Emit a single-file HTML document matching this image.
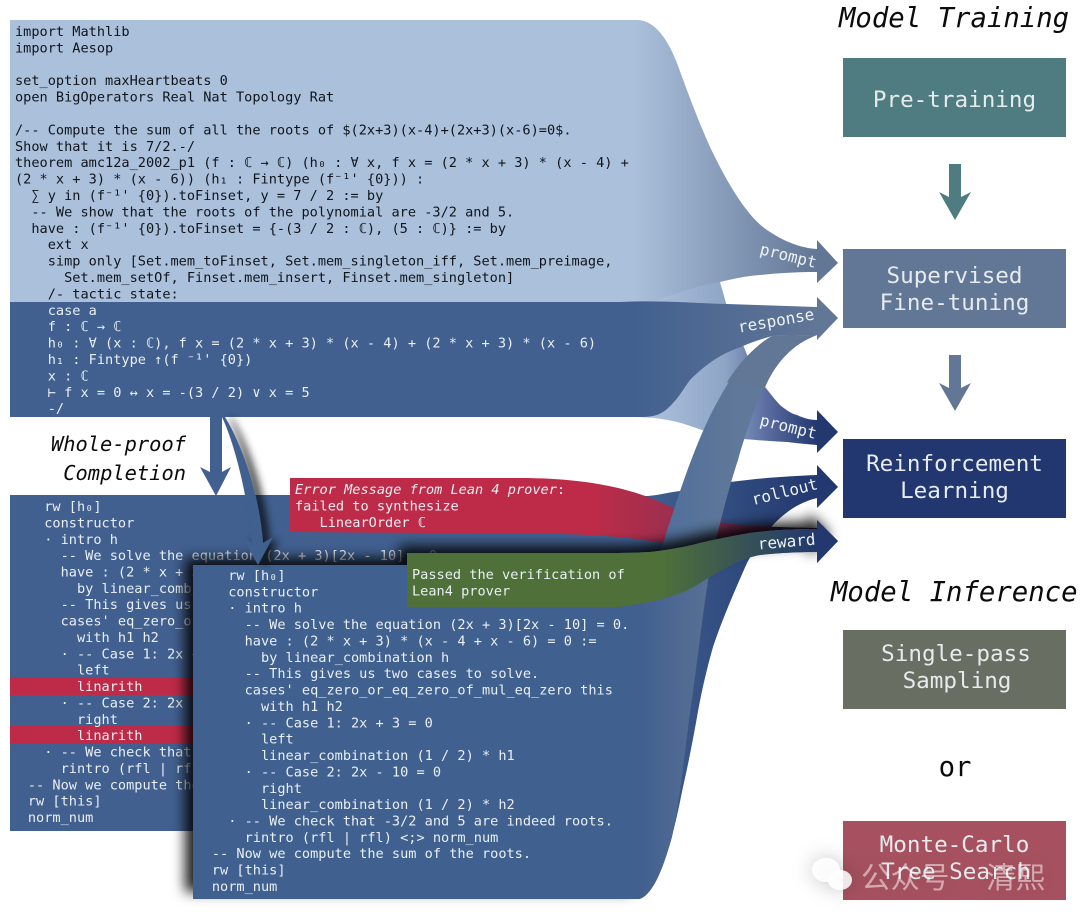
<!DOCTYPE html>
<html><head><meta charset="utf-8"><style>
html,body{margin:0;padding:0;background:#fff;width:1080px;height:919px;overflow:hidden}
svg{display:block;filter:blur(.35px)}
text{font-family:"DejaVu Sans Mono","Liberation Mono","Noto Sans CJK SC",monospace;white-space:pre}
.c{font-size:13.6px}
.d{fill:#10151c}.l{fill:#e9eff4}
.b{font-size:22.6px;fill:#e6ebee;text-anchor:middle}
.t{font-size:27.3px;font-style:italic;fill:#0b0b0b}
.w{font-size:20.4px;font-style:italic;fill:#0b0b0b;text-anchor:end}
.a{font-size:16px;fill:#eef2f6;text-anchor:middle}
</style></head><body>
<svg width="1080" height="919" viewBox="0 0 1080 919" xmlns="http://www.w3.org/2000/svg">
<defs>
<linearGradient id="gP1" gradientUnits="userSpaceOnUse" x1="635" y1="0" x2="817" y2="0"><stop offset="0" stop-color="#abc0db"/><stop offset="1" stop-color="#627696"/></linearGradient>
<linearGradient id="gR" gradientUnits="userSpaceOnUse" x1="630" y1="0" x2="817" y2="0"><stop offset="0" stop-color="#41608f"/><stop offset="1" stop-color="#627696"/></linearGradient>
<linearGradient id="gP2" gradientUnits="userSpaceOnUse" x1="650" y1="0" x2="817" y2="0"><stop offset="0" stop-color="#abc0db"/><stop offset=".45" stop-color="#8ea5c6"/><stop offset=".7" stop-color="#5a6ca0"/><stop offset="1" stop-color="#22386f"/></linearGradient>
<linearGradient id="gRo" gradientUnits="userSpaceOnUse" x1="640" y1="0" x2="817" y2="0"><stop offset="0" stop-color="#41608f"/><stop offset="1" stop-color="#22386f"/></linearGradient>
<linearGradient id="gRed" gradientUnits="userSpaceOnUse" x1="590" y1="0" x2="790" y2="0"><stop offset="0" stop-color="#be2b48"/><stop offset=".45" stop-color="#98304f"/><stop offset="1" stop-color="#45244a"/></linearGradient>
<linearGradient id="gG" gradientUnits="userSpaceOnUse" x1="660" y1="0" x2="817" y2="0"><stop offset="0" stop-color="#4f7139"/><stop offset="1" stop-color="#22386f"/></linearGradient>
<linearGradient id="gV" gradientUnits="userSpaceOnUse" x1="640" y1="0" x2="735" y2="0"><stop offset="0" stop-color="#41608f"/><stop offset="1" stop-color="#627696"/></linearGradient>
<linearGradient id="gU" gradientUnits="userSpaceOnUse" x1="665" y1="0" x2="735" y2="0"><stop offset="0" stop-color="#4f6f9b"/><stop offset="1" stop-color="#607899"/></linearGradient>
<clipPath id="cU"><rect x="600" y="300" width="300" height="300"/></clipPath>
<clipPath id="cL"><rect x="600" y="560" width="300" height="350"/></clipPath>
<filter id="sh" x="-10%" y="-10%" width="120%" height="120%"><feDropShadow dx="-8" dy="-7" stdDeviation="6.500" flood-color="#000" flood-opacity=".88"/></filter>
<filter id="sh2" x="-80%" y="-20%" width="260%" height="140%"><feDropShadow dx="7" dy="1" stdDeviation="4" flood-color="#000" flood-opacity=".7"/></filter>
<filter id="wm" x="-20%" y="-60%" width="140%" height="220%"><feDropShadow dx="0" dy="0" stdDeviation="10" flood-color="#000" flood-opacity=".28"/></filter>
</defs>

<!-- right column -->
<text class="t" x="839" y="27">Model Training</text>
<rect x="843" y="58" width="223" height="79" fill="#4f7c80"/>
<text class="b" x="954.500" y="107">Pre-training</text>
<path d="M949 164H961V197L971 192L955 220L939 192L949 197Z" fill="#4f7c80"/>
<rect x="843" y="249" width="223" height="79" fill="#627696"/>
<text class="b" x="954.500" y="283">Supervised</text>
<text class="b" x="954.500" y="310">Fine-tuning</text>
<path d="M949 355H961V388L971 383L955 411L939 383L949 388Z" fill="#627696"/>
<rect x="843" y="439" width="223" height="79" fill="#22376f"/>
<text class="b" x="954.500" y="471">Reinforcement</text>
<text class="b" x="954.500" y="498">Learning</text>
<text class="t" x="831" y="601">Model Inference</text>
<rect x="843" y="630" width="223" height="79" fill="#696e62"/>
<text class="b" x="956" y="661">Single-pass</text>
<text class="b" x="957" y="688">Sampling</text>
<text class="t" x="955" y="776" text-anchor="middle" style="font-style:normal">or</text>
<rect x="843" y="821" width="223" height="79" fill="#a75160"/>
<text class="b" x="954.500" y="852">Monte-Carlo</text>
<text class="b" x="956" y="879">Tree Search</text>

<!-- rollout band -->
<path d="M630 496H648C660 495 670 492 680 491C700 487 720 484 730 482C760 478 790 476 817 475V465L838 487L817 508V498C800 502 785 512 773 525C762 537 755 548 747 563C735 590 722 620 713 647C705 675 700 700 697 717C692 745 688 765 683 787C678 812 673 835 667 853C662 870 655 885 650 890C645 896 642 899 637 899H620V496Z" fill="url(#gRo)"/>

<!-- box 1 -->
<rect x="10" y="495" width="630" height="336" fill="#41608f"/>
<rect x="10" y="677" width="630" height="18" fill="#be2b48"/>
<rect x="10" y="726" width="630" height="18" fill="#be2b48"/>
<g class="c l">
<text x="11.500" y="511">    rw [h₀]</text>
<text x="11.500" y="527.400">    constructor</text>
<text x="11.500" y="543.800">    · intro h</text>
<text x="11.500" y="560.100">      -- We solve the equation (2x + 3)[2x - 10] = 0.</text>
<text x="11.500" y="576.500">      have : (2 * x + 3) * (x - 4 + x - 6) = 0 :=</text>
<text x="11.500" y="592.900">        by linear_combination h</text>
<text x="11.500" y="609.200">      -- This gives us two cases to solve.</text>
<text x="11.500" y="625.600">      cases' eq_zero_or_eq_zero_of_mul_eq_zero this</text>
<text x="11.500" y="642">        with h1 h2</text>
<text x="11.500" y="658.300">      · -- Case 1: 2x + 3 = 0</text>
<text x="11.500" y="674.700">        left</text>
<text x="11.500" y="691.100">        linarith</text>
<text x="11.500" y="707.400">      · -- Case 2: 2x - 10 = 0</text>
<text x="11.500" y="723.800">        right</text>
<text x="11.500" y="740.200">        linarith</text>
<text x="11.500" y="756.500">    · -- We check that -3/2 and 5 are indeed roots.</text>
<text x="11.500" y="772.900">      rintro (rfl | rfl) &lt;;&gt; norm_num</text>
<text x="11.500" y="789.300">  -- Now we compute the sum of the roots.</text>
<text x="11.500" y="805.600">  rw [this]</text>
<text x="11.500" y="822">  norm_num</text>
</g>

<!-- red band -->
<path d="M290 478H520C560 478 600 482 633 492C650 497 665 504 677 510L720 522C740 526 770 527 817 528V546H720L662 543C630 537 600 535 560 534L290 532Z" fill="url(#gRed)"/>
<g class="c l">
<text x="295" y="494" font-style="italic">Error Message from Lean 4 prover<tspan font-style="normal">:</tspan></text>
<text x="295" y="510.400">failed to synthesize</text>
<text x="295" y="526.800">   LinearOrder ℂ</text>
</g>

<!-- second prompt band -->
<path d="M640 250L720 282L726 303L748 357L765 387C770 393 775 400 780 405C786 410 792 414 797 415C803 418 810 420 817 420V410L838 432L817 453V445C805 444 795 443 787 442C770 441 755 440 743 439C728 437 715 434 702 430C693 427 685 424 677 422C665 419 650 417 630 417Z" fill="url(#gP2)"/>

<!-- top box + prompt + response -->
<path d="M10 20H637C655 20 668 40 677 63C685 85 697 118 710 147C725 178 745 215 767 230C783 241 800 248 817 249V240L838 263L817 283V272C798 272 780 273 760 275C745 276 733 279 720 282C708 284 697 287 687 290C675 294 665 297 653 302H10Z" fill="url(#gP1)"/>
<path d="M10 302H620C660 300 690 303 727 304L817 307V297L838 318L817 340V335L772 336C762 339 752 342 743 346C733 350 725 353 717 358C706 365 698 372 690 380C684 388 679 397 673 403C667 410 662 413 657 415C650 417 645 417 640 417H10Z" fill="url(#gR)"/>

<!-- slate ribbon from box 2 to response: upper part -->
<path clip-path="url(#cU)" d="M772 336C747 350 730 378 713 410C695 445 680 490 663 543L640 600V899C650 895 660 880 672 837C680 800 685 750 690 713C695 680 702 620 708 580C715 540 728 490 738 460C745 435 755 405 765 387C775 365 790 345 817 335Z" fill="url(#gU)"/>
<path d="M772 336C755 346 740 362 727 382L765 387C775 365 790 345 817 335Z" fill="#627696"/>

<!-- top text -->
<g class="c d">
<text x="15" y="36">import Mathlib</text>
<text x="15" y="52.400">import Aesop</text>
<text x="15" y="85.200">set_option maxHeartbeats 0</text>
<text x="15" y="101.600">open BigOperators Real Nat Topology Rat</text>
<text x="15" y="134.400">/-- Compute the sum of all the roots of $(2x+3)(x-4)+(2x+3)(x-6)=0$.</text>
<text x="15" y="150.800">Show that it is 7/2.-/</text>
<text x="15" y="167.200">theorem amc12a_2002_p1 (f : ℂ → ℂ) (h₀ : ∀ x, f x = (2 * x + 3) * (x - 4) +</text>
<text x="15" y="183.600">(2 * x + 3) * (x - 6)) (h₁ : Fintype (f⁻¹' {0})) :</text>
<text x="15" y="200">  ∑ y in (f⁻¹' {0}).toFinset, y = 7 / 2 := by</text>
<text x="15" y="216.400">  -- We show that the roots of the polynomial are -3/2 and 5.</text>
<text x="15" y="232.800">  have : (f⁻¹' {0}).toFinset = {-(3 / 2 : ℂ), (5 : ℂ)} := by</text>
<text x="15" y="249.200">    ext x</text>
<text x="15" y="265.600">    simp only [Set.mem_toFinset, Set.mem_singleton_iff, Set.mem_preimage,</text>
<text x="15" y="282">      Set.mem_setOf, Finset.mem_insert, Finset.mem_singleton]</text>
<text x="15" y="298.400">    /- tactic state:</text>
</g>
<g class="c l">
<text x="15" y="314.800">    case a</text>
<text x="15" y="331.200">    f : ℂ → ℂ</text>
<text x="15" y="347.600">    h₀ : ∀ (x : ℂ), f x = (2 * x + 3) * (x - 4) + (2 * x + 3) * (x - 6)</text>
<text x="15" y="364">    h₁ : Fintype ↑(f ⁻¹' {0})</text>
<text x="15" y="380.400">    x : ℂ</text>
<text x="15" y="396.800">    ⊢ f x = 0 ↔ x = -(3 / 2) ∨ x = 5</text>
<text x="15" y="413.200">    -/</text>
</g>

<text class="w" x="186" y="451">Whole-proof</text>
<text class="w" x="186" y="480">Completion</text>

<!-- straight arrow -->
<path d="M210 417H222V472L231 467L216 496L200 467L210 472Z" fill="#41608f"/>

<!-- box 2 + green with shadow -->
<g filter="url(#sh)">
<path d="M193 565H407V553H600C618 553 634 553 650 552C668 550 685 547 700 543C717 539 733 536 750 533C772 530 795 529 817 529V520L838 541L817 563V552C797 552 778 553 760 555C742 558 725 568 710 577C700 583 690 590 680 593C668 598 655 601 643 603L640 604V899H193Z" fill="#41608f"/>
</g>
<!-- lower ribbon above the box shadow so no seam at the box edge -->
<path clip-path="url(#cL)" d="M660 540L632 600V899H640C650 895 660 880 672 837C680 800 685 750 690 713C695 680 702 620 708 580C712 560 716 545 720 530Z" fill="url(#gV)"/>
<path d="M407 553H600C618 553 634 553 650 552C668 550 685 547 700 543C717 539 733 536 750 533C772 530 795 529 817 529V520L838 541L817 563V552C797 552 778 553 760 555C742 558 725 568 710 577C700 583 690 590 680 593C668 598 655 601 643 603C633 605 622 607 613 607H407Z" fill="url(#gG)"/>

<!-- curved arrow -->
<path d="M222 417C233 440 247 490 252 543L242 537L258 565L273 537L263 543C260 500 245 450 225 417Z" fill="#41608f" filter="url(#sh2)"/>

<g class="c l">
<text x="195.500" y="580">    rw [h₀]</text>
<text x="195.500" y="596.400">    constructor</text>
<text x="195.500" y="612.700">    · intro h</text>
<text x="195.500" y="629.100">      -- We solve the equation (2x + 3)[2x - 10] = 0.</text>
<text x="195.500" y="645.500">      have : (2 * x + 3) * (x - 4 + x - 6) = 0 :=</text>
<text x="195.500" y="661.800">        by linear_combination h</text>
<text x="195.500" y="678.200">      -- This gives us two cases to solve.</text>
<text x="195.500" y="694.600">      cases' eq_zero_or_eq_zero_of_mul_eq_zero this</text>
<text x="195.500" y="710.900">        with h1 h2</text>
<text x="195.500" y="727.300">      · -- Case 1: 2x + 3 = 0</text>
<text x="195.500" y="743.700">        left</text>
<text x="195.500" y="760">        linear_combination (1 / 2) * h1</text>
<text x="195.500" y="776.400">      · -- Case 2: 2x - 10 = 0</text>
<text x="195.500" y="792.800">        right</text>
<text x="195.500" y="809.100">        linear_combination (1 / 2) * h2</text>
<text x="195.500" y="825.500">    · -- We check that -3/2 and 5 are indeed roots.</text>
<text x="195.500" y="841.900">      rintro (rfl | rfl) &lt;;&gt; norm_num</text>
<text x="195.500" y="858.200">  -- Now we compute the sum of the roots.</text>
<text x="195.500" y="874.600">  rw [this]</text>
<text x="195.500" y="891">  norm_num</text>
<text x="412" y="579">Passed the verification of</text>
<text x="412" y="595.400">Lean4 prover</text>
</g>

<!-- arrow labels -->
<text class="a" transform="translate(787,261) rotate(14)">prompt</text>
<text class="a" transform="translate(777,326) rotate(-10)">response</text>
<text class="a" transform="translate(787,432) rotate(14)">prompt</text>
<text class="a" transform="translate(786,497) rotate(-14)">rollout</text>
<text class="a" transform="translate(787,547) rotate(-5)">reward</text>

<!-- watermark -->
<g filter="url(#wm)" fill="#fff">
<ellipse cx="826" cy="870" rx="14" ry="12" fill-opacity=".8"/>
<ellipse cx="840" cy="880" rx="12" ry="10" fill-opacity=".85"/>
<text x="861" y="888" fill-opacity=".5" style="font-family:'Noto Sans CJK SC',sans-serif;font-size:29.5px">公众号</text>
<text x="986" y="888" fill-opacity=".5" style="font-family:'Noto Sans CJK SC',sans-serif;font-size:29.5px">清熙</text>
</g>
</svg>
</body></html>
